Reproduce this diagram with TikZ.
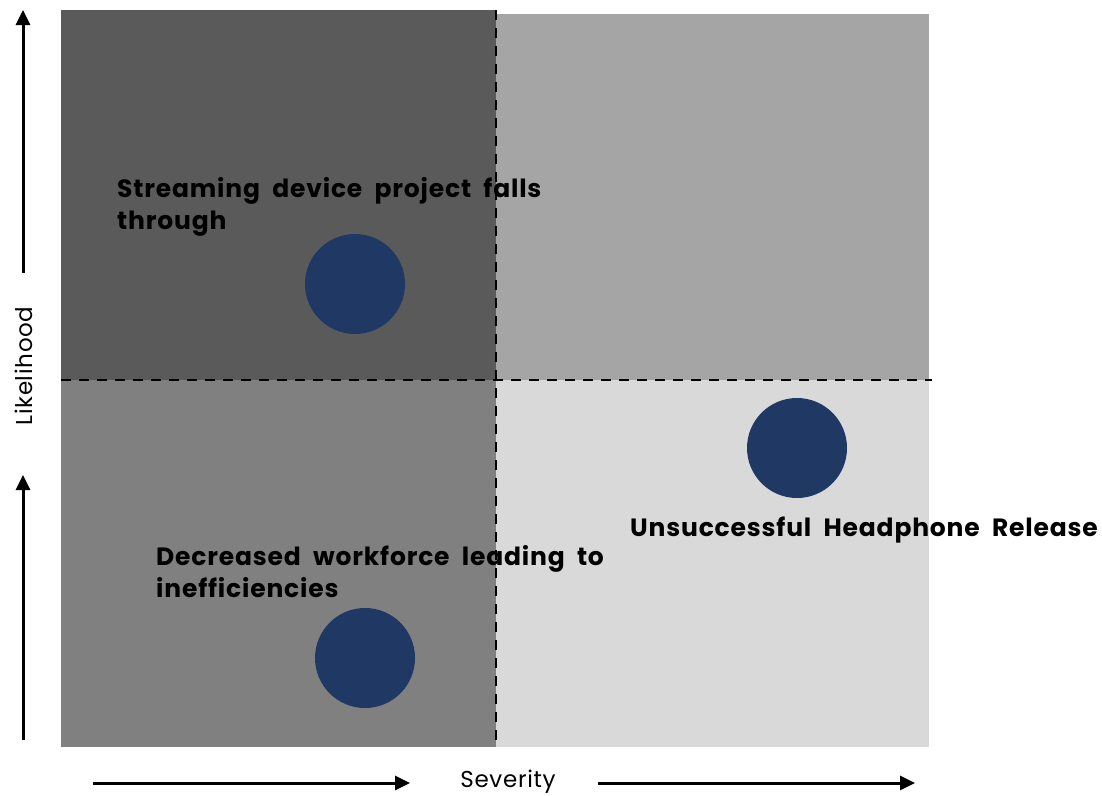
\documentclass[tikz,border=0pt]{standalone}
\usepackage{fontspec}
\setmainfont{Poppins}
\newfontfamily\risktextfont[LetterSpace=3.3,WordSpace=2]{Poppins}
\newfontfamily\axistextfont[LetterSpace=3]{Poppins}
\usetikzlibrary{arrows.meta}
\definecolor{qdark}{HTML}{5A5A5A}
\definecolor{qmid}{HTML}{A5A5A5}
\definecolor{qlow}{HTML}{808080}
\definecolor{qlight}{HTML}{D9D9D9}
\definecolor{riskblue}{HTML}{203864}
\begin{document}
\begin{tikzpicture}[x=1pt,y=-1pt,
  divider/.style={black,line width=2.6pt,dash pattern=on 10pt off 8pt},
  axisarrow/.style={black,line width=3pt,-{Triangle[length=15pt,width=14pt]}},
  risk/.style={circle,fill=riskblue,minimum size=100pt,inner sep=0pt},
  risklabel/.style={font=\risktextfont\fontsize{25}{31.5}\selectfont\bfseries,align=left,inner sep=0pt},
  axislabel/.style={font=\axistextfont\fontsize{23}{26}\selectfont,inner sep=0pt}]
\useasboundingbox (0,0) rectangle (1102,795);
% quadrants
\fill[qdark]  (61,10)  rectangle (496,380);
\fill[qmid]   (496,14) rectangle (929,380);
\fill[qlow]   (61,380) rectangle (496,747);
\fill[qlight] (496,380) rectangle (929,747);
% risks (the base anchor of a two-line label sits on its last line)
\node[risk] (r1) at (355,284) {};
\node[risk] (r2) at (797,448) {};
\node[risk] (r3) at (365,658) {};
\node[risklabel,anchor=base west] (t1) at (117,229) {Streaming device project falls\\through};
\node[risklabel,anchor=base west] (t2) at (630,536) {Unsuccessful Headphone Release};
\node[risklabel,anchor=base west] (t3) at (156,597) {Decreased workforce leading to\\inefficiencies};
% dividers, drawn over the labels
\coordinate (vt) at (496,10);
\coordinate (vb) at (496,747);
\coordinate (hl) at (61,380);
\coordinate (hr) at (932,380);
\draw[divider] (vt) -- (vb);
\draw[divider] (hl) -- (hr);
% axes
\node[axislabel,rotate=90,anchor=base] (lk) at (32,366) {Likelihood};
\coordinate (ua0) at (23,273);
\coordinate (ua1) at (23,10);
\coordinate (la0) at (23,740);
\coordinate (la1) at (23,475);
\draw[axisarrow] (ua0) -- (ua1);
\draw[axisarrow] (la0) -- (la1);
\node[axislabel,anchor=base] (sv) at (508,787) {Severity};
\coordinate (ba0) at (93,783);
\coordinate (ba1) at (410,783);
\coordinate (bb0) at (598,783);
\coordinate (bb1) at (915,783);
\draw[axisarrow] (ba0) -- (ba1);
\draw[axisarrow] (bb0) -- (bb1);
\end{tikzpicture}
\end{document}
